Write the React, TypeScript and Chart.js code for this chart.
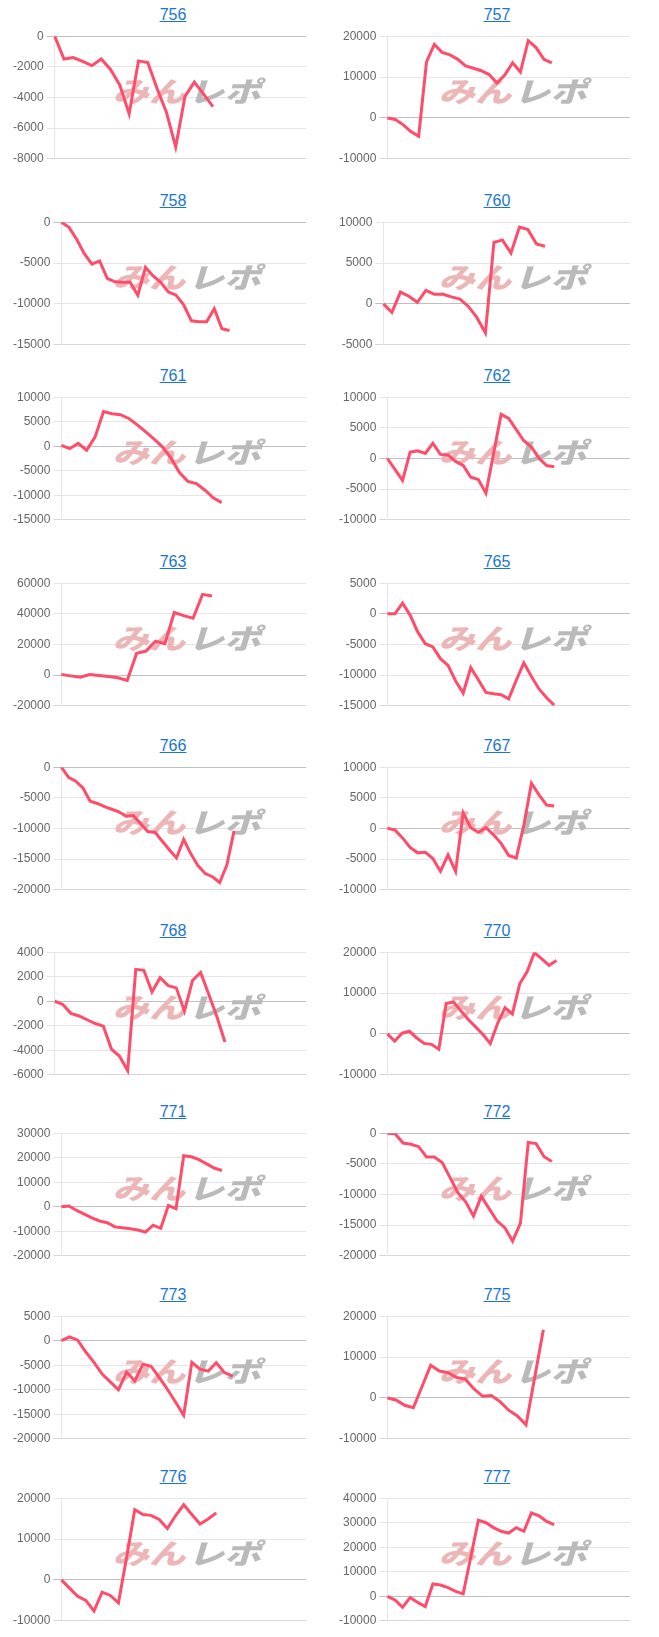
import React, { useEffect, useRef } from 'react';
import { Chart, registerables } from 'chart.js';
Chart.register(...registerables);

// ---- data ----
const machineIds = ['756', '757', '758', '760', '761', '762', '763', '765', '766', '767', '768', '770', '771', '772', '773', '775', '776', '777'];

const values756 = [0, -1490, -1390, -1650, -1920, -1490, -2170, -3200, -5070, -1610, -1720, -3410, -4960, -7230, -3930, -3000, -3780, -4590];
const values757 = [0, -390, -1630, -3330, -4500, 13720, 17980, 16050, 15430, 14340, 12710, 12170, 11550, 10620, 8530, 10470, 13490, 11240, 18910, 17210, 14340, 13490];
const values758 = [0, -630, -2080, -3840, -5130, -4740, -6860, -7290, -7360, -7360, -8930, -5520, -6580, -7360, -8540, -8930, -10110, -12060, -12180, -12180, -10580, -13040, -13240];
const values760 = [0, -1020, 1450, 940, 200, 1650, 1180, 1180, 860, 590, -310, -1680, -3530, 7520, 7830, 6230, 9400, 9090, 7330, 7050];
const values761 = [160, -490, 610, -820, 1900, 7090, 6630, 6440, 5660, 4370, 2940, 1450, -170, -2440, -5350, -7160, -7620, -8910, -10530, -11500];
const values762 = [0, -1760, -3580, 1040, 1240, 830, 2490, 670, 570, -470, -1140, -3060, -3420, -5650, 780, 7200, 6530, 4720, 2900, 1870, 50, -1140, -1350];
const values763 = [360, -470, -1300, 360, -260, -880, -1710, -3380, 14290, 15740, 22180, 20520, 40880, 38810, 37140, 52730, 51690];
const values765 = [0, 0, 1750, -200, -2950, -4870, -5390, -7310, -8400, -10950, -12920, -8770, -10740, -12820, -13030, -13180, -13860, -10840, -7990, -10220, -12250, -13700, -14900];
const values766 = [0, -1660, -2290, -3380, -5560, -5920, -6440, -6860, -7270, -8000, -7900, -9200, -10490, -10600, -12050, -13460, -14810, -11790, -14130, -16100, -17350, -17870, -18810, -15950, -10390];
const values767 = [30, -230, -1530, -3090, -3970, -3870, -4910, -6990, -4290, -6990, 2520, 130, -600, 130, -1010, -2420, -4390, -4810, 550, 7400, 5480, 3820, 3660];
const values768 = [0, -260, -990, -1200, -1510, -1820, -2030, -3900, -4490, -5660, 2600, 2520, 750, 1920, 1270, 1090, -810, 1690, 2340, 570, -1250, -3330];
const values770 = [20, -1770, 180, 650, -990, -2320, -2550, -3720, 7430, 7820, 5640, 3530, 1740, -130, -2320, 2600, 6420, 4860, 12260, 15220, 19900, 18340, 16780, 17950];
const values771 = [0, 300, -1500, -3000, -4500, -5800, -6500, -8200, -8600, -9000, -9500, -10300, -7500, -8800, 500, -800, 20800, 20400, 19200, 17500, 15800, 14800];
const values772 = [0, -100, -1600, -1800, -2200, -3900, -3900, -4800, -7200, -9700, -11200, -13500, -10300, -12300, -14300, -15400, -17600, -14700, -1500, -1700, -3800, -4600];
const values773 = [0, 800, 100, -2300, -4400, -6800, -8400, -10000, -6400, -8200, -4800, -5200, -7500, -9900, -12500, -15200, -4400, -5800, -6200, -4500, -6500, -7200];
const values775 = [0, -500, -1800, -2400, 2800, 8000, 6600, 6200, 5000, 4600, 2200, 400, 600, -900, -3000, -4400, -6600, 5000, 16700];
const values776 = [0, -2000, -4000, -5000, -7600, -3000, -3800, -5600, 5500, 17200, 16000, 15800, 14800, 12600, 15700, 18400, 16000, 13700, 14900, 16400];
const values777 = [0, -1500, -4500, -500, -2500, -4200, 5000, 4600, 3500, 2000, 1000, 16000, 31000, 30000, 28000, 26500, 25800, 28000, 26500, 34000, 32800, 30500, 29200];

const seriesList = [values756, values757, values758, values760, values761, values762, values763, values765, values766, values767, values768, values770, values771, values772, values773, values775, values776, values777];

// number of x-axis categories (days) for each chart
const dayCounts = [28, 32, 33, 30, 30, 33, 27, 33, 35, 33, 32, 34, 33, 32, 31, 29, 31, 33];

// y-axis ranges / tick steps
const yMins = [-8000, -10000, -15000, -5000, -15000, -10000, -20000, -15000, -20000, -10000, -6000, -10000, -20000, -20000, -20000, -10000, -10000, -10000];
const yMaxs = [0, 20000, 0, 10000, 10000, 10000, 60000, 5000, 0, 10000, 4000, 20000, 30000, 0, 5000, 20000, 20000, 40000];
const ySteps = [2000, 10000, 5000, 5000, 5000, 5000, 20000, 5000, 5000, 5000, 2000, 10000, 10000, 5000, 5000, 10000, 10000, 10000];

// ---- layout (page coords) ----
const rowPlotTops = [33, 219, 394, 580, 764, 949, 1130, 1313, 1495];
const PLOT_H = 129;
const PAD_TOP = 7;
const PAD_BOTTOM = 7;
const colCanvasLeft = [10, 336];
const colCanvasWidth = [296, 294];
const colTitleCenter = [173, 497];
const BODY = 8;

const watermarkPlugin = {
  id: 'watermark',
  beforeDatasetsDraw(chart: any) {
    const { ctx, chartArea } = chart;
    ctx.save();
    ctx.translate(180, chartArea.top + 55);
    ctx.transform(1, 0, -0.3, 1, 0, 0);
    ctx.scale(1.3, 1);
    ctx.font = '900 28px "Noto Sans CJK JP"';
    ctx.textBaseline = 'middle';
    ctx.textAlign = 'right';
    ctx.fillStyle = 'rgb(237, 182, 182)';
    ctx.fillText('みん', -1, 0);
    ctx.textAlign = 'left';
    ctx.fillStyle = 'rgb(186, 186, 186)';
    ctx.fillText('レポ', 1, 0);
    ctx.restore();
  },
};

function MiniChart(props: { idx: number }) {
  const { idx } = props;
  const ref = useRef<HTMLCanvasElement | null>(null);
  const col = idx % 2;
  const row = Math.floor(idx / 2);
  const width = colCanvasWidth[col];
  const height = PLOT_H + PAD_TOP + PAD_BOTTOM;
  const top = rowPlotTops[row] - PAD_TOP - BODY;
  const left = colCanvasLeft[col] - BODY;

  useEffect(() => {
    if (!ref.current) return;
    const labels = Array.from({ length: dayCounts[idx] }, (_, i) => String(i + 1));
    const min = yMins[idx];
    const max = yMaxs[idx];
    const chart = new Chart(ref.current, {
      type: 'line',
      data: {
        labels,
        datasets: [
          {
            data: seriesList[idx],
            borderColor: 'rgb(255, 76, 106)',
            backgroundColor: 'rgb(255, 76, 106)',
            borderWidth: 3,
            pointRadius: 0,
            pointHoverRadius: 0,
            tension: 0,
            fill: false,
          },
        ],
      },
      options: {
        responsive: false,
        animation: false,
        devicePixelRatio: 1,
        layout: { padding: 0 },
        plugins: { legend: { display: false }, tooltip: { enabled: false }, title: { display: false } },
        scales: {
          x: { display: false },
          y: {
            min,
            max,
            ticks: {
              stepSize: ySteps[idx],
              color: '#666',
              font: { size: 12, family: 'Arial, "Liberation Sans", Helvetica, sans-serif' },
              padding: 3,
              callback: (v: any) => String(v),
            },
            grid: {
              color: (c: any) => {
                const v = c.tick ? c.tick.value : null;
                if (v === 0) return 'rgba(0,0,0,0.25)';
                if (v === min) return 'rgba(0,0,0,0.16)';
                return 'rgba(0,0,0,0.1)';
              },
              tickLength: 8,
            },
            border: { color: 'rgba(0,0,0,0.1)' },
          },
        },
      },
      plugins: [watermarkPlugin],
    });
    return () => chart.destroy();
  }, [idx]);

  return (
    <>
      <a
        href="#"
        style={{
          position: 'absolute',
          left: colTitleCenter[col] - BODY - 40,
          width: 80,
          top: rowPlotTops[row] - 18 - 10 - BODY,
          textAlign: 'center',
          fontFamily: 'Arial, "Liberation Sans", sans-serif',
          fontSize: 16,
          lineHeight: '20px',
          color: '#1976d2',
          textDecoration: 'underline',
        }}
      >
        {machineIds[idx]}
      </a>
      <canvas
        ref={ref}
        width={width}
        height={height}
        style={{ position: 'absolute', left, top, width, height }}
      />
    </>
  );
}

export default function App() {
  return (
    <div style={{ position: 'relative', width: 643, height: 1621, background: '#fff' }}>
      {machineIds.map((_, i) => (
        <MiniChart key={i} idx={i} />
      ))}
    </div>
  );
}
